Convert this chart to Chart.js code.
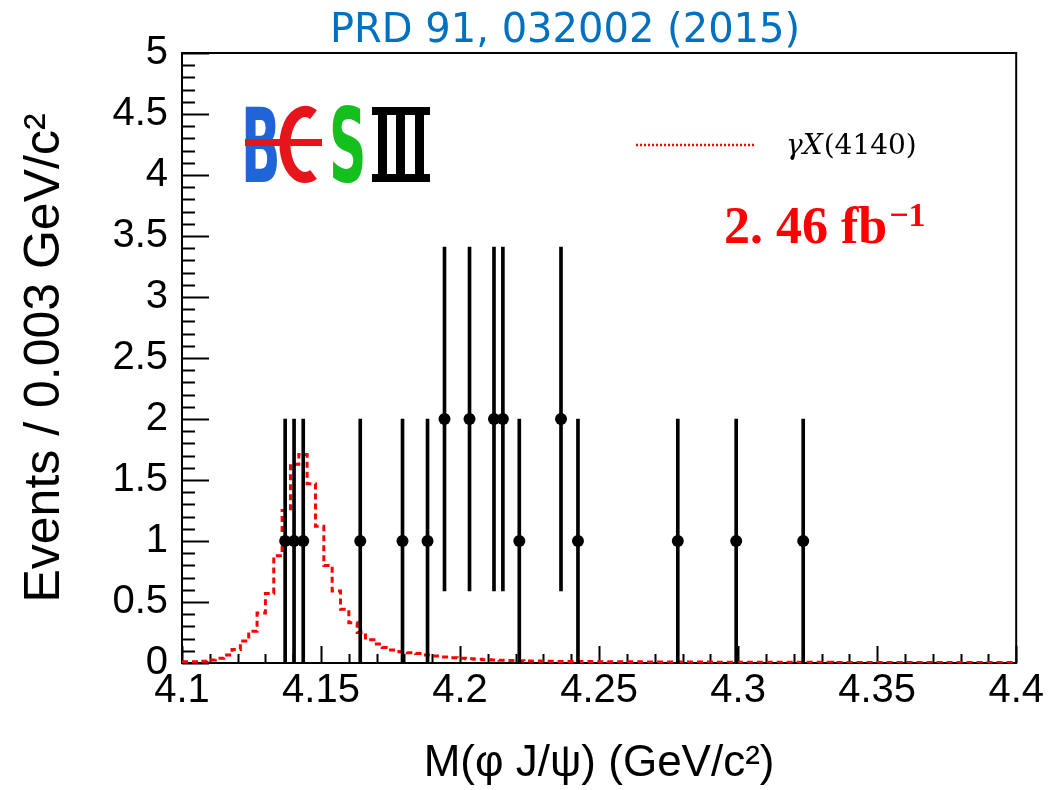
<!DOCTYPE html>
<html>
<head>
<meta charset="utf-8">
<script src="https://cdn.jsdelivr.net/npm/chart.js@4.4.1/dist/chart.umd.min.js"></script>
<style>
  html, body { margin: 0; padding: 0; background: #fff; }
  canvas { display: block; }
</style>
</head>
<body>
<canvas id="chartPhiJpsi" width="1048" height="790"></canvas>
<script>
// axis ticks (GeV/c^2, events)
const xTicks = [4.1, 4.15, 4.2, 4.25, 4.3, 4.35, 4.4];
const yTicks = [0, 0.5, 1, 1.5, 2, 2.5, 3, 3.5, 4, 4.5, 5];

// data events: M(phi J/psi) and counts, with error bars
const eventMass = [4.1371, 4.1403, 4.1436, 4.1641, 4.1793, 4.1883, 4.1944, 4.2034,
  4.2122, 4.2154, 4.2213, 4.2363, 4.2424, 4.2783, 4.2993, 4.3234];
const eventCount = [1, 1, 1, 1, 1, 1, 2, 2, 2, 2, 1, 2, 1, 1, 1, 1];
const errLow = [0, 0, 0, 0, 0, 0, 0.59, 0.59, 0.59, 0.59, 0, 0.59, 0, 0, 0, 0];
const errHigh = [2, 2, 2, 2, 2, 2, 3.41, 3.41, 3.41, 3.41, 2, 3.41, 2, 2, 2, 2];

// gamma X(4140) MC shape, 0.003 GeV bins from 4.1
const mcBinLow = 4.1;
const mcBinWidth = 0.003;
const mcShape = [
  0.01, 0.01, 0.015, 0.025, 0.038, 0.066, 0.11, 0.18, 0.26, 0.41,
  0.57, 0.88, 1.25, 1.63, 1.71, 1.47, 1.12, 0.80, 0.59, 0.44,
  0.33, 0.25, 0.19, 0.155, 0.128, 0.107, 0.093, 0.085, 0.078, 0.066,
  0.057, 0.05, 0.044, 0.038, 0.034, 0.031, 0.027, 0.025, 0.022, 0.02,
  0.018, 0.017, 0.016, 0.015, 0.014, 0.013, 0.013, 0.012, 0.012, 0.011,
  0.011, 0.01, 0.01, 0.01, 0.01, 0.009, 0.009, 0.009, 0.009, 0.008,
  0.008, 0.008, 0.008, 0.008, 0.007, 0.007, 0.007, 0.007, 0.007, 0.007,
  0.006, 0.006, 0.006, 0.006, 0.006, 0.006, 0.006, 0.006, 0.005, 0.005,
  0.005, 0.005, 0.005, 0.005, 0.005, 0.005, 0.005, 0.005, 0.005, 0.005,
  0.005, 0.005, 0.005, 0.005, 0.005, 0.005, 0.005, 0.005, 0.005, 0.005,
];

const mcPoints = mcShape.map((v, i) => ({ x: mcBinLow + i * mcBinWidth, y: v }));
mcPoints.push({ x: xTicks[xTicks.length - 1], y: mcShape[mcShape.length - 1] });

const FONT = "'Liberation Sans', Arial, sans-serif";

// frame + inward ticks like ROOT
const framePlugin = {
  id: "frame",
  beforeDatasetsDraw(chart) {
    const { ctx, chartArea: a, scales } = chart;
    const x = scales.x, y = scales.y;
    ctx.save();
    ctx.strokeStyle = "#000";
    ctx.lineWidth = 2;
    ctx.beginPath();
    for (let i = 0; i <= 30; i++) {
      const px = Math.round(x.getPixelForValue(4.1 + i * 0.01)) + 0.5;
      const len = i % 5 === 0 ? 17 : 9;
      ctx.moveTo(px, a.bottom);
      ctx.lineTo(px, a.bottom - len);
    }
    for (let i = 0; i <= 50; i++) {
      const py = Math.round(y.getPixelForValue(i * 0.1)) + 0.5;
      const len = i % 5 === 0 ? 27 : 13;
      ctx.moveTo(a.left, py);
      ctx.lineTo(a.left + len, py);
    }
    ctx.stroke();
    ctx.strokeRect(a.left, a.top, a.right - a.left, a.bottom - a.top);
    ctx.restore();
  },
};

// title, BESIII logo, legend, luminosity
const textPlugin = {
  id: "texts",
  afterDraw(chart) {
    const ctx = chart.ctx;
    ctx.save();

    ctx.fillStyle = "#0070c0";
    ctx.font = "40px 'DejaVu Sans'";
    ctx.textAlign = "center";
    ctx.textBaseline = "alphabetic";
    ctx.fillText("PRD 91, 032002 (2015)", 565, 42);

    // logo
    ctx.textAlign = "left";
    ctx.font = "bold 100px 'DejaVu Sans'";
    ctx.save();
    ctx.fillStyle = "#1f64d8";
    ctx.translate(241, 182);
    ctx.scale(0.52, 1.03);
    ctx.fillText("B", 0, 0);
    ctx.restore();
    ctx.strokeStyle = "#e8141c";
    ctx.lineWidth = 11;
    ctx.beginPath();
    ctx.ellipse(305, 144.5, 20, 33, 0, -0.36 * Math.PI, 0.36 * Math.PI, true);
    ctx.stroke();
    ctx.fillStyle = "#e8141c";
    ctx.fillRect(245, 139, 77, 7);
    ctx.save();
    ctx.fillStyle = "#14c01e";
    ctx.translate(329, 182);
    ctx.scale(0.52, 1.03);
    ctx.fillText("S", 0, 0);
    ctx.restore();
    ctx.fillStyle = "#000";
    ctx.fillRect(372, 107, 58, 8);
    ctx.fillRect(372, 174, 58, 8);
    ctx.fillRect(378, 107, 9, 75);
    ctx.fillRect(396, 107, 9, 75);
    ctx.fillRect(415, 107, 9, 75);

    // legend
    ctx.strokeStyle = "#ff0000";
    ctx.lineWidth = 2.5;
    ctx.setLineDash([2, 2]);
    ctx.beginPath();
    ctx.moveTo(636, 145);
    ctx.lineTo(755, 145);
    ctx.stroke();
    ctx.setLineDash([]);
    ctx.fillStyle = "#000";
    ctx.font = "italic 28px 'DejaVu Serif'";
    ctx.fillText("\u03b3X", 786, 154);
    const w = ctx.measureText("\u03b3X").width;
    ctx.font = "28px 'DejaVu Serif'";
    ctx.fillText("(4140)", 786 + w + 1, 154);

    // luminosity
    ctx.fillStyle = "#ff0000";
    ctx.font = "bold 52px 'Liberation Serif'";
    ctx.fillText("2. 46 fb", 724, 243);
    const lw = ctx.measureText("2. 46 fb").width;
    ctx.font = "bold 34px 'Liberation Serif'";
    ctx.fillText("\u22121", 724 + lw + 2, 226);

    ctx.restore();
  },
};

new Chart(document.getElementById("chartPhiJpsi").getContext("2d"), {
  type: "scatter",
  data: {
    datasets: [
      {
        type: "scatter",
        label: "Data",
        data: eventMass.map((m, i) => ({ x: m, y: eventCount[i] })),
        pointRadius: 6,
        pointBackgroundColor: "#000",
        pointBorderWidth: 0,
        order: 0,
      },
      {
        type: "bar",
        label: "Errors",
        data: eventMass.map((m, i) => ({ x: m, y: [errLow[i], errHigh[i]] })),
        backgroundColor: "#000",
        borderWidth: 0,
        barThickness: 3,
        order: 1,
      },
      {
        type: "line",
        label: "\u03b3X(4140)",
        data: mcPoints,
        stepped: "before",
        borderColor: "#ff0000",
        borderWidth: 3,
        borderDash: [6, 4],
        pointRadius: 0,
        fill: false,
        order: 2,
      },
    ],
  },
  options: {
    responsive: false,
    animation: false,
    layout: { padding: { top: 53, right: 31, left: 0, bottom: 0 } },
    plugins: { legend: { display: false }, tooltip: { enabled: false } },
    scales: {
      x: {
        type: "linear",
        min: 4.1,
        max: 4.4,
        offset: false,
        afterBuildTicks: (s) => { s.ticks = xTicks.map((v) => ({ value: v })); },
        afterFit: (s) => { s.height = 127; },
        grid: { display: false, drawTicks: false, offset: false },
        border: { display: false },
        ticks: {
          color: "#000",
          padding: 4,
          maxRotation: 0,
          autoSkip: false,
          font: { family: FONT, size: 40 },
          callback: (v) => String(+v.toFixed(3)),
        },
        title: {
          display: true,
          text: "M(\u03c6 J/\u03c8) (GeV/c\u00b2)",
          color: "#000",
          font: { family: FONT, size: 44 },
          padding: { top: 0, bottom: 0 },
        },
      },
      y: {
        min: 0,
        max: 5,
        afterBuildTicks: (s) => { s.ticks = yTicks.map((v) => ({ value: v })); },
        afterFit: (s) => { s.width = 182; },
        grid: { display: false, drawTicks: false },
        border: { display: false },
        ticks: {
          color: "#000",
          padding: 14,
          autoSkip: false,
          font: { family: FONT, size: 40 },
          callback: (v) => String(+v.toFixed(2)),
        },
        title: {
          display: true,
          text: "Events / 0.003 GeV/c\u00b2",
          color: "#000",
          font: { family: FONT, size: 50 },
          padding: { top: 15, bottom: 0 },
        },
      },
    },
  },
  plugins: [framePlugin, textPlugin],
});
</script>
</body>
</html>
